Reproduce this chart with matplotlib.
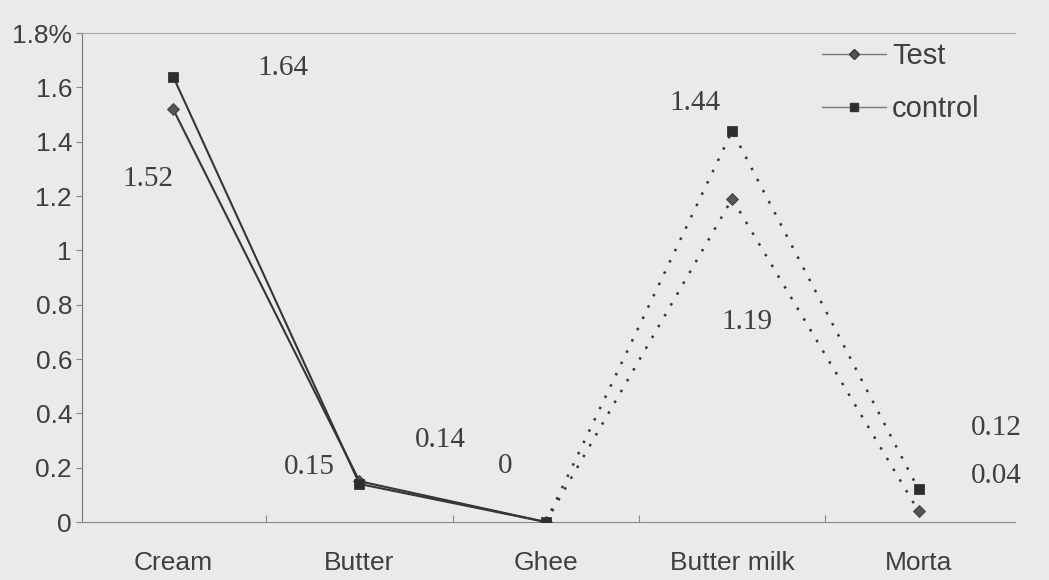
import numpy as np
import matplotlib.pyplot as plt
from matplotlib.ticker import FixedLocator, NullFormatter

plt.rcParams['font.family'] = ['Liberation Sans', 'DejaVu Sans']

categories = ["Cream", "Butter", "Ghee", "Butter milk", "Morta"]
test_vals = [1.52, 0.15, 0.0, 1.19, 0.04]
control_vals = [1.64, 0.14, 0.0, 1.44, 0.12]
y_ticks = [0, 0.2, 0.4, 0.6, 0.8, 1.0, 1.2, 1.4, 1.6, 1.8]

# where each value label sits relative to its point (offset points)
test_label_offsets = [(-18, -50), (-36, 10), None, (11, -89), (56, 25)]
control_label_offsets = [(79, 6), (58, 32), (-29, 40), (-27, 20), (56, 44)]

BG = "#e9eaec"
INK = "#353535"
TEXT = "#3f3f3f"


def draw_series(ax, x, y, marker, ms, mcolor, label):
    # first three products joined with a solid line, the rest dotted
    ax.plot(x[:3], y[:3], color=INK, lw=1.5, zorder=2)
    ax.plot(x[2:], y[2:], color=INK, lw=1.8, linestyle=(0, (1, 4)), zorder=2)
    ax.plot(x, y, linestyle="none", marker=marker, ms=ms,
            color=mcolor, mec=INK, mew=0.6, zorder=3)
    # legend entry: thin grey line through the marker
    ax.plot([], [], color="#7a7a7a", lw=1.0, marker=marker, ms=ms - 1,
            mfc=mcolor, mec=INK, label=label)


def main() -> None:
    fig = plt.figure(figsize=(10.49, 5.8), dpi=100, facecolor=BG)
    ax = fig.add_axes([0.078, 0.1, 0.89, 0.843], facecolor=BG)

    x = np.arange(len(categories))
    draw_series(ax, x, test_vals, "D", 6, "#555555", "Test")
    draw_series(ax, x, control_vals, "s", 7, "#2e2e2e", "control")

    seen = set()
    for vals, offsets in ((control_vals, control_label_offsets),
                          (test_vals, test_label_offsets)):
        for xi, v, off in zip(x, vals, offsets):
            if off is None or (xi, v) in seen:
                continue
            seen.add((xi, v))
            ax.annotate(f"{v:g}", (xi, v), xytext=off, textcoords="offset points",
                        ha="center", va="center", fontsize=21,
                        family=["Liberation Serif", "DejaVu Serif"], color=TEXT)

    ax.set_xlim(-0.49, 4.52)
    ax.set_ylim(0, 1.8)

    # category names centred, tick marks on the boundaries between them
    ax.xaxis.set_major_locator(FixedLocator(x[:-1] + 0.5))
    ax.xaxis.set_major_formatter(NullFormatter())
    ax.xaxis.set_minor_locator(FixedLocator(x))
    ax.set_xticklabels(categories, minor=True)
    ax.tick_params(axis="x", which="minor", length=0, pad=21, labelsize=19,
                   labelcolor=TEXT)
    ax.tick_params(axis="x", which="major", direction="in", length=5,
                   color="#888888")

    ax.set_yticks(y_ticks)
    ax.set_yticklabels([f"{t:g}%" if t == y_ticks[-1] else f"{t:g}" for t in y_ticks])
    ax.tick_params(axis="y", length=4, color="#888888", labelsize=19,
                   labelcolor=TEXT, pad=3)

    ax.spines["right"].set_visible(False)
    ax.spines["left"].set_color("#777777")
    ax.spines["bottom"].set_color("#888888")
    ax.spines["top"].set_color("#aaaaaa")
    ax.spines["top"].set_linewidth(0.8)

    ax.legend(loc="upper right", bbox_to_anchor=(0.99, 1.035), frameon=False,
              fontsize=21, handlelength=2.2, handletextpad=0.2, labelspacing=0.85,
              labelcolor=TEXT)

    fig.savefig("out.png", dpi=100, facecolor=BG)


if __name__ == "__main__":
    main()
